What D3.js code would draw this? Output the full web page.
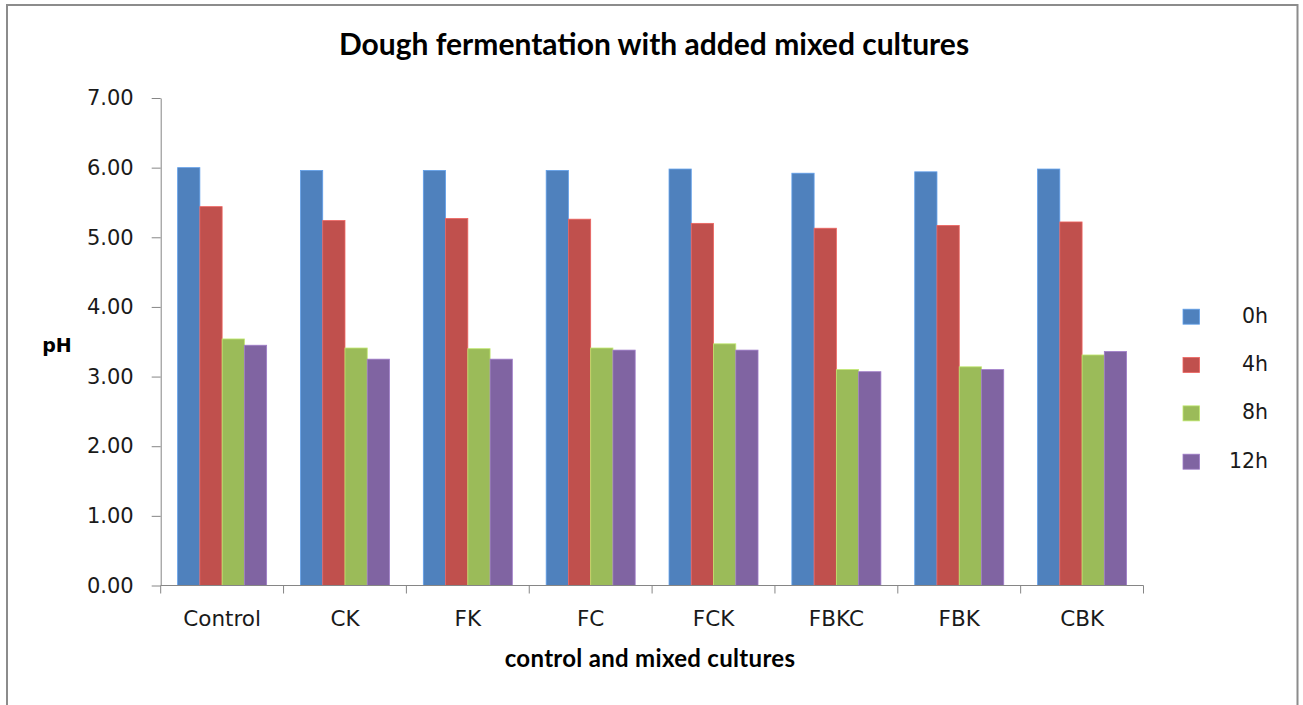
<!DOCTYPE html>
<html>
<head>
<meta charset="utf-8">
<script src="https://cdn.jsdelivr.net/npm/d3@7"></script>
<style>
  html, body { margin: 0; padding: 0; background: #fff; }
  svg { display: block; }
  text { white-space: pre; }
</style>
</head>
<body>
<svg id="chart" width="1303" height="705"></svg>
<script>
// pH of dough during fermentation, per culture mix and time point
const categories = ["Control", "CK", "FK", "FC", "FCK", "FBKC", "FBK", "CBK"];
const seriesNames = ["0h", "4h", "8h", "12h"];
const ph0h  = [6.00, 5.96, 5.96, 5.96, 5.98, 5.92, 5.94, 5.98];
const ph4h  = [5.44, 5.24, 5.27, 5.26, 5.20, 5.13, 5.17, 5.22];
const ph8h  = [3.54, 3.41, 3.40, 3.41, 3.47, 3.10, 3.14, 3.31];
const ph12h = [3.45, 3.25, 3.25, 3.38, 3.38, 3.07, 3.10, 3.36];
const yTicks = [0, 1, 2, 3, 4, 5, 6, 7];
const colors = ["#4F81BD", "#C0504D", "#9BBB59", "#8064A2"];

const seriesValues = [ph0h, ph4h, ph8h, ph12h];
const rows = categories.map((c, i) => ({
  category: c,
  values: seriesNames.map((s, j) => ({ series: s, value: seriesValues[j][i], idx: j }))
}));

const svg = d3.select("#chart");
const axisColor = "#868686";
const textColor = "#1a1a1a";
const plot = { left: 160.7, right: 1143.5, top: 98, bottom: 585.5 };

// outer frame
svg.append("path")
  .attr("d", `M7,710 L7,5 L1297.5,5 L1297.5,710`)
  .attr("fill", "none")
  .attr("stroke", "#8c8c8c")
  .attr("stroke-width", 2);

const x = d3.scaleBand()
  .domain(categories)
  .range([plot.left, plot.right])
  .paddingInner(0.2755)
  .paddingOuter(0.2755 / 2);

const xs = d3.scaleBand()
  .domain(seriesNames)
  .range([0, x.bandwidth()]);

const y = d3.scaleLinear()
  .domain([0, 7])
  .range([plot.bottom, plot.top]);

// bars
const groups = svg.append("g").selectAll("g")
  .data(rows)
  .join("g")
  .attr("transform", d => `translate(${x(d.category)},0)`);

groups.selectAll("rect")
  .data(d => d.values)
  .join("rect")
  .attr("x", d => xs(d.series))
  .attr("y", d => y(d.value))
  .attr("width", xs.bandwidth())
  .attr("height", d => y(0) - y(d.value))
  .attr("fill", d => colors[d.idx])
  .attr("stroke", d => d3.color(colors[d.idx]).brighter(0.6))
  .attr("stroke-width", 0.8);

// y axis
const yAxis = svg.append("g")
  .attr("transform", `translate(${plot.left},0)`)
  .call(d3.axisLeft(y).tickValues(yTicks).tickFormat(d3.format(".2f")).tickSize(9).tickSizeOuter(0));
yAxis.select(".domain").attr("stroke", axisColor);
yAxis.selectAll(".tick line").attr("stroke", axisColor);
yAxis.selectAll(".tick text")
  .attr("x", -27)
  .attr("font-family", "DejaVu Sans")
  .attr("font-size", 21)
  .attr("fill", textColor);

// x axis with ticks at category boundaries
const xAxisG = svg.append("g").attr("transform", `translate(0,${plot.bottom})`);
xAxisG.append("line")
  .attr("x1", plot.left).attr("x2", plot.right)
  .attr("stroke", axisColor);
const boundaries = categories.map(c => x(c) - x.step() * x.paddingInner() / 2)
  .concat([plot.right]);
xAxisG.selectAll("line.tick")
  .data(boundaries)
  .join("line")
  .attr("class", "tick")
  .attr("x1", d => d).attr("x2", d => d)
  .attr("y1", 0).attr("y2", 8)
  .attr("stroke", axisColor);
xAxisG.selectAll("text")
  .data(categories)
  .join("text")
  .attr("x", d => x(d) + x.bandwidth() / 2)
  .attr("y", 34)
  .attr("dominant-baseline", "middle")
  .attr("text-anchor", "middle")
  .attr("font-family", "DejaVu Sans")
  .attr("font-size", 21.5)
  .attr("fill", textColor)
  .text(d => d);

// titles
svg.append("text")
  .attr("x", 654).attr("y", 47)
  .attr("text-anchor", "middle").attr("dominant-baseline", "middle")
  .attr("font-family", "Lato").attr("font-weight", 700).attr("font-size", 30)
  .attr("fill", "#000")
  .text("Dough fermentation with added mixed cultures");

svg.append("text")
  .attr("x", 650).attr("y", 661)
  .attr("text-anchor", "middle").attr("dominant-baseline", "middle")
  .attr("font-family", "Lato").attr("font-weight", 700).attr("font-size", 24)
  .attr("letter-spacing", 0.3)
  .attr("fill", "#000")
  .text("control and mixed cultures");

svg.append("text")
  .attr("x", 57).attr("y", 346)
  .attr("text-anchor", "middle").attr("dominant-baseline", "middle")
  .attr("font-family", "DejaVu Sans").attr("font-weight", 700).attr("font-size", 19)
  .attr("fill", "#000")
  .text("pH");

// legend
const legend = svg.append("g");
const legendY = d3.scalePoint().domain(seriesNames).range([316.7, 461.7]);
const item = legend.selectAll("g")
  .data(seriesNames)
  .join("g")
  .attr("transform", d => `translate(0,${legendY(d)})`);
item.append("rect")
  .attr("x", 1183).attr("y", -7.5)
  .attr("width", 16.5).attr("height", 15)
  .attr("fill", (d, i) => colors[i])
  .attr("stroke", (d, i) => d3.color(colors[i]).brighter(0.6))
  .attr("stroke-width", 0.8);
item.append("text")
  .attr("x", 1268).attr("y", 0)
  .attr("text-anchor", "end").attr("dominant-baseline", "middle")
  .attr("font-family", "DejaVu Sans").attr("font-size", 20.5)
  .attr("fill", textColor)
  .text(d => d);
</script>
</body>
</html>
